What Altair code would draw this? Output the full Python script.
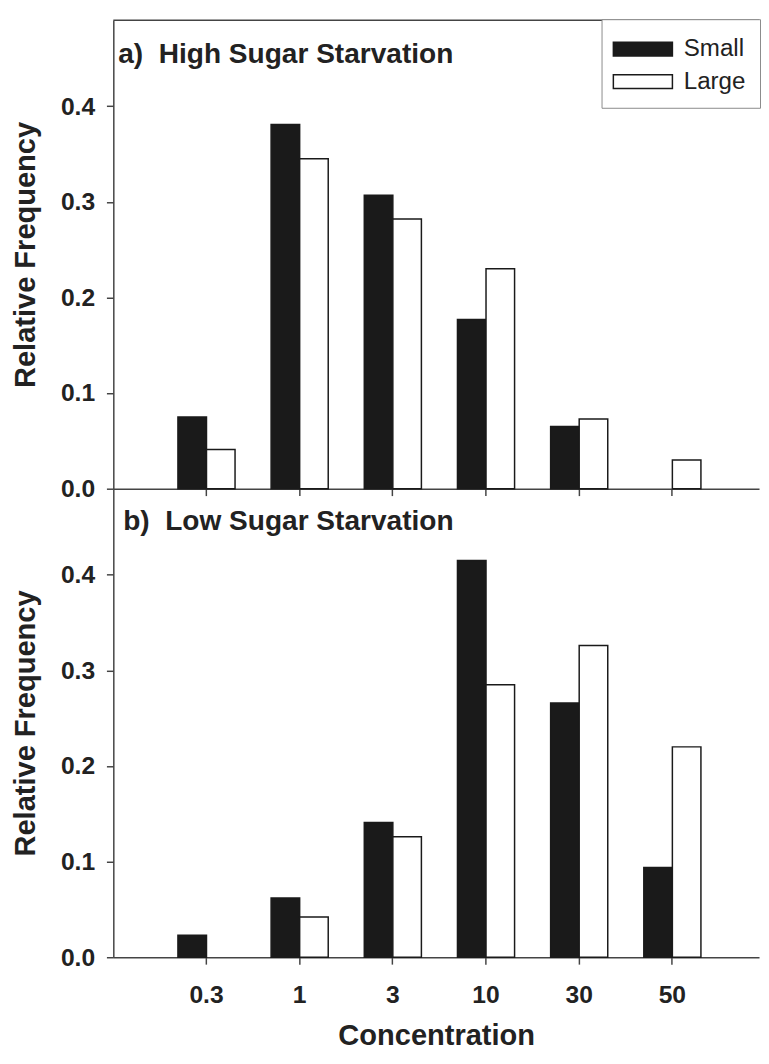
import altair as alt
import pandas as pd

# ---- data ----
conc = ["0.3", "1", "3", "10", "30", "50"]
sizes = ["Small", "Large"]
high_small = [0.075, 0.381, 0.307, 0.177, 0.065, 0.0]
high_large = [0.041, 0.345, 0.282, 0.230, 0.073, 0.030]
low_small = [0.023, 0.062, 0.141, 0.415, 0.266, 0.094]
low_large = [0.0, 0.042, 0.126, 0.285, 0.326, 0.220]
panel_titles = ["a)\u00a0 High Sugar Starvation", "b)\u00a0 Low Sugar Starvation"]
y_ticks = [0.0, 0.1, 0.2, 0.3, 0.4]


def frame(small, large):
    rows = []
    for c, s, l in zip(conc, small, large):
        rows.append({"conc": c, "size": "Small", "freq": s})
        rows.append({"conc": c, "size": "Large", "freq": l})
    return pd.DataFrame(rows)


high = frame(high_small, high_large)
low = frame(low_small, low_large)

W, H = 656, 476
FONT = "Liberation Sans"
INK = "#1a1a1a"
TXT = "#222222"
AX = "#444444"

x_scale = alt.Scale(domain=conc, paddingInner=0.387, paddingOuter=0.6585, align=0.5265)
y_scale = alt.Scale(domain=[0, 0.49], nice=False)


def y_axis():
    return alt.Axis(values=y_ticks, format=".1f", title="Relative Frequency", grid=False,
                    tickSize=7, tickWidth=1.5, tickColor=AX, domainColor=AX, domainWidth=1.5,
                    labelFont=FONT, labelFontSize=25, labelFontWeight="bold", labelColor=TXT,
                    labelPadding=12, titleFont=FONT, titleFontSize=29.5, titleFontWeight="bold",
                    titleColor=TXT, titlePadding=19, minExtent=55, maxExtent=55)


top_xaxis = alt.Axis(title=None, labels=False, grid=False, tickSize=7, tickWidth=1.5,
                     tickColor=AX, domainColor=AX, domainWidth=1.5)
bottom_xaxis = alt.Axis(title="Concentration", grid=False, tickSize=7, tickWidth=1.5,
                        tickColor=AX, domainColor=AX, domainWidth=1.5, labelAngle=0,
                        labelFont=FONT, labelFontSize=25, labelFontWeight="bold",
                        labelColor=TXT, labelPadding=19, titleFont=FONT, titleFontSize=29.5,
                        titleFontWeight="bold", titleColor=TXT, titlePadding=15)

legend = alt.Legend(title=None, orient="none", legendX=496, legendY=-1, direction="vertical",
                    padding=14.5, strokeColor="#8a8a8a", fillColor="white", cornerRadius=0,
                    symbolType="M-1,-0.4667H3V0.4667H-1Z", symbolSize=900,
                    symbolStrokeColor=INK, symbolStrokeWidth=1.5, symbolOffset=-3.5,
                    labelOffset=40.5, labelFont=FONT, labelFontSize=24.5, labelColor=TXT,
                    rowPadding=5)


def bars(df, xaxis, leg):
    return alt.Chart(df).transform_filter("datum.freq > 0").mark_bar(
        stroke=INK, strokeWidth=1.5
    ).encode(
        x=alt.X("conc:N", scale=x_scale, axis=xaxis),
        xOffset=alt.XOffset("size:N", sort=sizes,
                            scale=alt.Scale(domain=sizes, paddingInner=0, paddingOuter=0)),
        y=alt.Y("freq:Q", scale=y_scale, axis=y_axis()),
        fill=alt.Fill("size:N", scale=alt.Scale(domain=sizes, range=[INK, "white"]), legend=leg),
    )


def panel_label(text, dx, base):
    return alt.Chart(pd.DataFrame({"label": [text]})).mark_text(
        align="left", baseline="alphabetic", font=FONT, fontSize=28.5, fontWeight="bold",
        color=TXT
    ).encode(text="label:N", x=alt.value(dx), y=alt.value(base))


border = alt.Chart(pd.DataFrame({"label": [panel_titles[0]]})).mark_rule(
    color=AX, strokeWidth=1.5).encode(y=alt.value(0))

top = alt.layer(bars(high, top_xaxis, legend), border,
                panel_label(panel_titles[0], 5, 44)).properties(width=W, height=H)

bottom = alt.layer(bars(low, bottom_xaxis, None),
                   panel_label(panel_titles[1], 10, 42)).properties(width=W, height=H)

chart = alt.vconcat(top, bottom, spacing=0, bounds="flush").resolve_legend(
    fill="independent"
).properties(
    padding={"left": 3, "top": 2, "right": 0, "bottom": 0}
).configure_view(stroke=None)

chart.save("out.html", embed_options={"renderer": "svg", "actions": False})
